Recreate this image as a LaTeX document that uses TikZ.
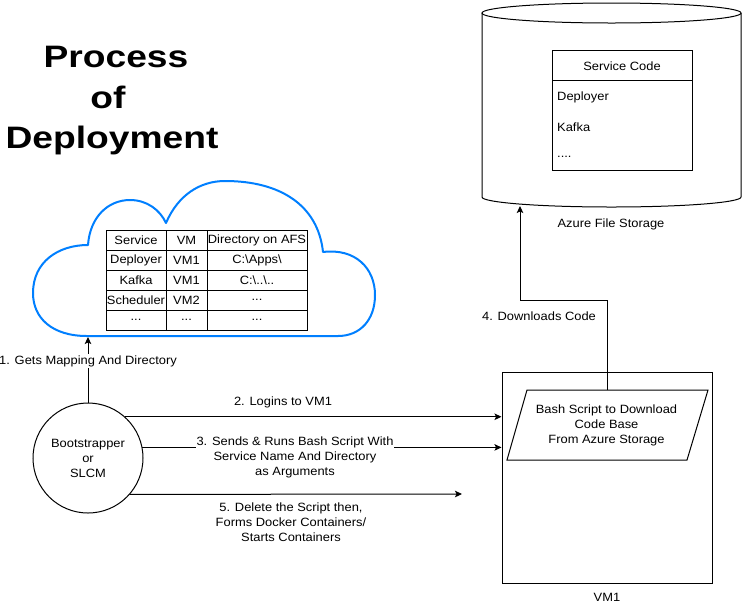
\documentclass[tikz,border=0pt]{standalone}
\usepackage{fontspec}
\setmainfont{Liberation Sans}[FakeStretch=1.075]
\newfontfamily\titlefont{Liberation Sans}[FakeStretch=1.2]
\usetikzlibrary{arrows.meta,calc}
\definecolor{cloudblue}{RGB}{0,127,255}
\begin{document}
\begin{tikzpicture}[x=1pt,y=-1pt,
  txt/.style={font=\fontsize{12}{15}\selectfont, inner sep=1pt, align=center},
  titletxt/.style={font=\titlefont\bfseries\fontsize{31}{41}\selectfont, inner sep=0pt},
  arr/.style={line width=1pt, -{Stealth[length=7pt,width=6.5pt,inset=1.5pt]}},
  ln/.style={line width=1pt},
  cloudline/.style={draw=cloudblue, line width=2pt, line join=round}
]
\useasboundingbox (0,0) rectangle (743,606);

% title
\node[titletxt, anchor=base] (t1) at (116,67) {Process};
\node[titletxt, anchor=base] (t2) at (108,108) {of};
\node[titletxt, anchor=base] (t3) at (112,148) {Deployment};

% cloud
\draw[cloudline] (87,336)
  .. controls (52,336) and (33,318) .. (33,293)
  .. controls (33,262) and (58,245) .. (88,245)
  .. controls (90,217) and (108,200) .. (130,200)
  .. controls (147,200) and (160,210) .. (166,223)
  .. controls (178,195) and (200,181) .. (225,181)
  .. controls (280,181) and (318,205) .. (323,252)
  .. controls (355,248) and (375,268) .. (375,295)
  .. controls (375,320) and (360,336) .. (338,336)
  -- cycle;

% table
\draw[ln] (106,230) rectangle (307,330);
\foreach \yy in {250,270,290,310} \draw[ln] (106,\yy) -- (307,\yy);
\draw[ln] (166,230) -- (166,330);
\draw[ln] (207,230) -- (207,330);
\node[txt] (c11) at (136,240) {Service};
\node[txt] (c12) at (186.5,240) {VM};
\node[txt] (c13) at (257,240) {Directory on AFS};
\node[txt] (c21) at (136,260) {Deployer};
\node[txt] (c22) at (186.5,260) {VM1};
\node[txt] (c23) at (257,260) {C:\textbackslash Apps\textbackslash};
\node[txt] (c31) at (136,280) {Kafka};
\node[txt] (c32) at (186.5,280) {VM1};
\node[txt] (c33) at (257,280) {C:\textbackslash..\textbackslash..};
\node[txt] (c41) at (136,300) {Scheduler};
\node[txt] (c42) at (186.5,300) {VM2};
\node[txt] (c43) at (257,300) {...};
\node[txt] (c51) at (136,320) {...};
\node[txt] (c52) at (186.5,320) {...};
\node[txt] (c53) at (257,320) {...};

% bootstrapper
\node[draw, circle, minimum size=110pt, inner sep=0pt, ln, txt] (boot) at (88,458) {Bootstrapper\\or\\SLCM};
\coordinate (cloudb) at (88,337);
\draw[arr] (boot.north) -- (cloudb);
\node[txt, fill=white] (l1) at (88,361) {1. Gets Mapping And Directory};

% VM1
\node[draw, ln, minimum width=210pt, minimum height=211pt, inner sep=0pt] (vm) at (607,477.5) {};
\node[txt] (vml) at (607,597) {VM1};

% parallelogram
\draw[ln] (527,390) -- (708,390) -- (687,460) -- (507,460) -- cycle;
\node[txt] (bash) at (606.5,425) {Bash Script to Download\\Code Base\\From Azure Storage};
\coordinate (bashtop) at (607,390);

% arrows 2,3,5
\draw[arr] (boot.48) -- (boot.48 -| vm.west);
\node[txt] (l2) at (283,402) {2. Logins to VM1};
\draw[arr] (boot.11.5) -- (boot.11.5 -| vm.west);
\node[txt, fill=white] (l3) at (295,457) {3. Sends \& Runs Bash Script With\\Service Name And Directory\\as Arguments};
\coordinate (a5end) at (462,494);
\draw[arr] (boot.319) -- (a5end);
\node[txt] (l5) at (291,522) {5. Delete the Script then,\\Forms Docker Containers/\\Starts Containers};

% cylinder
\draw[ln] (482,13) -- (482,197) arc[start angle=180, end angle=0, x radius=129.5, y radius=10] -- (741,13);
\draw[ln] (611.5,13) ellipse [x radius=129.5, y radius=10];
\node[txt] (azl) at (611,224) {Azure File Storage};

% service code box
\draw[ln] (552,50) rectangle (692,170);
\draw[ln] (552,80) -- (692,80);
\node[txt] (sc) at (622,66) {Service Code};
\node[txt, anchor=west] (sc1) at (556,97) {Deployer};
\node[txt, anchor=west] (sc2) at (556,127) {Kafka};
\node[txt, anchor=west] (sc3) at (556,157) {....};

% arrow 4
\coordinate (azb) at (520,206);
\draw[arr] (bashtop) -- ++(0,-90) -| (azb);
\node[txt] (l4) at (539,316) {4. Downloads Code};
\end{tikzpicture}
\end{document}
